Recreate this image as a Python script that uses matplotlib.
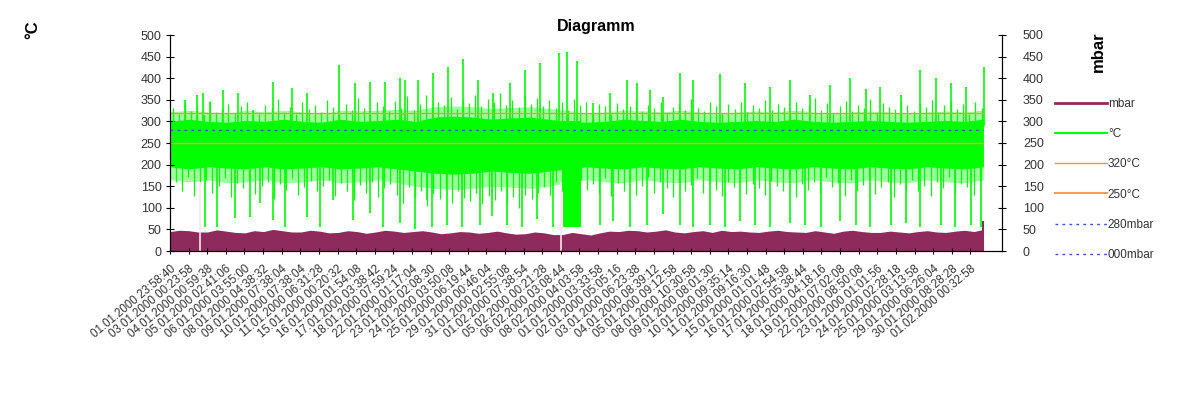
import matplotlib.pyplot as plt
import numpy as np
from matplotlib.lines import Line2D

plt.rcParams["font.family"] = ["Liberation Sans", "DejaVu Sans"]

# x tick labels (one per category tick)
time_labels = [
    "01.01.2000 23:58:40", "03.01.2000 00:23:58", "04.01.2000 00:59:38", "05.01.2000 02:41:06",
    "06.01.2000 03:55:00", "08.01.2000 04:38:32", "09.01.2000 07:38:04", "10.01.2000 07:38:04",
    "11.01.2000 06:31:28", "15.01.2000 00:20:32", "16.01.2000 01:54:08", "17.01.2000 03:38:42",
    "18.01.2000 07:59:24", "22.01.2000 01:17:04", "23.01.2000 02:08:30", "24.01.2000 03:50:08",
    "25.01.2000 06:19:44", "29.01.2000 00:46:04", "31.01.2000 02:55:08", "01.02.2000 07:38:54",
    "05.02.2000 00:21:28", "06.02.2000 03:08:44", "08.02.2000 04:03:58", "01.01.2000 03:33:58",
    "02.01.2000 05:05:16", "03.01.2000 06:23:38", "04.01.2000 08:39:12", "05.01.2000 09:12:58",
    "08.01.2000 10:30:58", "09.01.2000 08:01:30", "10.01.2000 09:35:14", "11.01.2000 09:16:30",
    "15.01.2000 01:01:48", "16.01.2000 02:54:58", "17.01.2000 05:38:44", "18.01.2000 04:18:16",
    "19.01.2000 07:02:08", "22.01.2000 08:50:08", "23.01.2000 01:01:56", "24.01.2000 02:28:18",
    "25.01.2000 03:13:58", "29.01.2000 06:26:04", "30.01.2000 08:28:28", "01.02.2000 00:32:58",
]

# temperature band (dense part of the °C series), one value per tick
temp_top = [300, 305, 300, 298, 302, 300, 305, 300, 298, 305, 300, 302, 305, 300, 310, 312,
            310, 305, 308, 310, 305, 300, 298, 300, 305, 302, 300, 305, 300, 298, 300, 302,
            300, 305, 300, 298, 300, 302, 300, 298, 300, 302, 300, 305]
temp_fringe_top = [322, 326, 322, 318, 326, 322, 326, 322, 318, 326, 324, 326, 328, 326, 334, 336,
                   334, 330, 332, 334, 330, 326, 318, 322, 326, 324, 322, 326, 322, 318, 322, 324,
                   322, 326, 322, 318, 322, 324, 322, 318, 322, 324, 322, 326]
temp_bottom = [195, 190, 195, 192, 190, 195, 190, 192, 195, 190, 192, 195, 190, 185, 180, 178,
               180, 185, 182, 180, 185, 190, 195, 192, 190, 195, 192, 190, 195, 192, 190, 195,
               192, 190, 195, 192, 190, 195, 192, 190, 195, 192, 190, 195]
temp_fringe_bottom = [165, 160, 165, 158, 160, 165, 158, 160, 165, 158, 160, 165, 158, 150, 145, 142,
                      145, 150, 148, 145, 150, 158, 165, 160, 158, 165, 160, 158, 165, 160, 158, 165,
                      160, 158, 165, 160, 158, 165, 160, 158, 165, 160, 158, 165]

# dense dip block in the middle (start, end, low value)
temp_block = (21.1, 22.1, 55)

# temperature peaks (position in ticks, °C)
peak_pos = [0.81, 1.45, 1.77, 2.15, 2.85, 3.66, 4.46, 5.54, 6.56, 7.37, 9.09, 9.95, 10.75, 11.56,
            12.37, 12.63, 13.33, 14.14, 14.95, 15.75, 16.56, 17.37, 18.28, 19.09, 19.89, 20.91,
            21.34, 21.88, 22.74, 23.66, 24.57, 25.11, 25.81, 26.51, 27.42, 28.12, 29.57, 30.91,
            32.26, 33.33, 34.41, 35.48, 36.56, 37.37, 38.17, 39.25, 40.32, 41.13, 41.94, 42.74, 43.71]
peak_val = [350, 361, 365, 345, 372, 365, 326, 391, 377, 365, 430, 389, 391, 391,
            400, 396, 396, 412, 426, 445, 396, 365, 389, 419, 435, 458,
            460, 440, 342, 365, 396, 389, 372, 356, 412, 396, 410, 390,
            380, 395, 360, 385, 400, 375, 380, 360, 420, 400, 390, 380, 426]

# temperature dips
dip_pos = [1.88, 2.53, 3.49, 4.30, 4.84, 5.54, 6.18, 7.37, 8.06, 8.76, 9.84, 10.75, 11.45, 12.37,
           13.17, 13.82, 14.09, 14.89, 15.70, 16.67, 17.31, 18.12, 18.92, 19.73, 20.59, 23.12,
           23.82, 24.73, 25.65, 26.51, 27.42, 28.12, 29.03, 29.84, 30.65, 31.45, 32.26, 33.33,
           34.14, 34.95, 36.02, 36.83, 37.63, 38.71, 39.52, 40.32, 41.40, 42.20, 43.01, 43.55]
dip_val = [55, 55, 76, 79, 110, 72, 55, 79, 55, 118, 72, 88, 55, 65,
           50, 118, 55, 60, 55, 60, 80, 60, 55, 75, 55, 60,
           70, 55, 60, 85, 60, 55, 60, 55, 70, 60, 55, 65,
           60, 55, 70, 60, 55, 60, 65, 55, 60, 55, 60, 55]

# smaller excursions above and below the dense band, left to right
minor_peak_val = [
    330, 318, 342, 325, 336, 315, 348, 322, 332, 340, 320, 335,
    345, 326, 318, 338, 330, 352, 321, 334, 316, 344, 328, 339,
    322, 350, 333, 319, 341, 327, 355, 330, 318, 346, 336, 324,
    348, 332, 358, 326, 340, 362, 331, 345, 338, 356, 329, 350,
    342, 360, 335, 352, 344, 365, 338, 349, 333, 358, 341, 354,
    336, 349, 330, 344, 326, 352, 338, 346, 322, 340, 335, 318,
    342, 328, 336, 350, 324, 338, 330, 345, 320, 334, 341, 327,
    352, 331, 325, 344, 336, 318, 340, 329, 346, 322, 337, 331,
    349, 326, 340, 333, 321, 345, 330, 338, 355, 327, 342, 319,
    336, 348, 324, 339, 331, 352, 320, 343, 334, 328, 346, 338,
    325, 341, 333, 350, 322, 337, 345, 329, 340, 318, 344, 332,
]
minor_dip_val = [
    160, 140, 172, 128, 155, 165, 135, 150, 170, 125, 158, 145,
    168, 132, 150, 160, 120, 155, 142, 170, 130, 148, 162, 138,
    150, 165, 128, 158, 140, 118, 152, 135, 160, 125, 145, 155,
    130, 112, 148, 125, 140, 105, 132, 120, 145, 110, 138, 122,
    115, 135, 108, 128, 118, 140, 112, 125, 100, 130, 120, 135,
    148, 130, 160, 138, 152, 125, 165, 142, 155, 135, 170, 128,
    158, 140, 165, 130, 150, 172, 135, 160, 145, 125, 162, 140,
    152, 168, 135, 158, 142, 128, 160, 148, 170, 132, 155, 145,
    130, 162, 150, 138, 168, 125, 155, 142, 160, 135, 172, 148,
    158, 128, 165, 140, 152, 170, 132, 148, 160, 125, 155, 142,
    165, 138, 150, 128, 160, 145, 172, 135, 155, 148, 130, 162,
]

# pressure (mbar) band top, two values per tick
mbar_top = [45, 48, 47, 44, 44, 49, 46, 43, 42, 47, 45, 50, 47, 44, 44, 48, 46, 42, 43, 47, 45, 41,
            44, 48, 46, 43, 45, 47, 44, 40, 42, 45, 44, 41, 43, 46, 42, 39, 40, 44, 42, 38, 38, 43,
            40, 37, 42, 46, 45, 48, 47, 44, 46, 49, 44, 42, 45, 47, 43, 48, 45, 46, 44, 43, 46, 48,
            45, 44, 43, 47, 44, 41, 46, 48, 45, 43, 43, 46, 44, 42, 45, 47, 44, 43, 46, 48, 45, 50]
mbar_end = 70

# gaps in the recording
gap_pos = [1.61, 21.02]

# reference lines
ref_320 = 320
ref_250 = 250
ref_280 = 280
ref_000 = 0

data_end = 43.7
band_x = np.linspace(0, data_end, len(temp_top))
mbar_x = np.linspace(0, data_end, len(mbar_top))
minor_peak_x = np.linspace(0.15, 43.6, len(minor_peak_val))
minor_dip_x = np.linspace(0.3, 43.5, len(minor_dip_val))

fig = plt.figure(figsize=(11.81, 3.96), dpi=100)
ax = fig.add_axes([170 / 1181, 1 - 251 / 396, 832 / 1181, 216 / 396])

green = "#00ff00"
light_green = "#9dff9d"
maroon = "#8e2a5c"
orange_a = "#ff8c50"
orange_b = "#ff9a50"
blue = "#4050d0"

ax.fill_between(band_x, temp_fringe_bottom, temp_fringe_top, color=light_green, lw=0)
ax.vlines(minor_peak_x, 290, minor_peak_val, color=green, lw=0.9)
ax.vlines(minor_dip_x, minor_dip_val, 200, color=green, lw=0.9)
ax.fill_between(band_x, temp_bottom, temp_top, color=green, lw=0)
ax.fill_between([temp_block[0], temp_block[1]], temp_block[2], 300, color=green, lw=0)
ax.vlines(peak_pos, 290, peak_val, color=green, lw=1.2)
ax.vlines(dip_pos, dip_val, 200, color=green, lw=1.2)

ax.fill_between(mbar_x, 0, mbar_top, color=maroon, lw=0)
ax.vlines([data_end], 0, mbar_end, color=maroon, lw=1.5)
for g in gap_pos:
    ax.vlines(g, 0, 160, color="#fbe6f0", lw=1.2)

ax.hlines(ref_320, 0, data_end, color=orange_a, lw=1.0)
ax.hlines(ref_250, 0, data_end, color=orange_b, lw=1.0)
ax.hlines(ref_280, 0, data_end, color=blue, lw=1.0, ls=(0, (2, 3)))
ax.hlines(ref_000, 0, data_end, color=blue, lw=1.0, ls=(0, (2, 3)))

ax.set_xlim(0, 44.7)
ax.set_ylim(0, 500)
ax.set_yticks(np.arange(0, 501, 50))
ax.set_xticks(np.arange(len(time_labels)))
ax.set_xticklabels(time_labels, rotation=40, ha="right", rotation_mode="anchor",
                   fontsize=8.3, color="#333333")
ax.tick_params(axis="x", direction="inout", length=5, width=0.8, pad=6)
ax.tick_params(axis="y", direction="inout", length=6, width=0.8, labelsize=9,
               labelcolor="#333333", pad=3)
ax.spines["top"].set_visible(False)
for s in ["left", "right", "bottom"]:
    ax.spines[s].set_linewidth(0.8)

ax2 = ax.twinx()
ax2.set_ylim(0, 500)
ax2.set_yticks(np.arange(0, 501, 50))
ax2.tick_params(axis="y", direction="inout", length=6, width=0.8, labelsize=9,
                labelcolor="#333333", pad=12)
ax2.spines["top"].set_visible(False)

fig.text(596 / 1181, 1 - 27 / 396, "Diagramm", ha="center", va="center",
         fontsize=11.5, fontweight="bold")
fig.text(33 / 1181, 1 - 30 / 396, "°C", ha="center", va="center", rotation=90,
         fontsize=12, fontweight="bold")
fig.text(1098 / 1181, 1 - 52 / 396, "mbar", ha="center", va="center", rotation=90,
         fontsize=12, fontweight="bold")

handles = [
    Line2D([], [], color=maroon, lw=2),
    Line2D([], [], color=green, lw=1.5),
    Line2D([], [], color=orange_a, lw=1),
    Line2D([], [], color=orange_b, lw=1.5),
    Line2D([], [], color=blue, lw=1, ls=(0, (2, 3))),
    Line2D([], [], color=blue, lw=1, ls=(0, (2, 3))),
]
names = ["mbar", "°C", "320°C", "250°C", "280mbar", "000mbar"]
fig.legend(handles, names, loc="upper left", bbox_to_anchor=(1050 / 1181, 1 - 93 / 396),
           frameon=False, fontsize=8.5, handlelength=4.4, handletextpad=0.1,
           labelspacing=1.55, borderaxespad=0, labelcolor="#333333")

fig.savefig("out.png", dpi=100)
